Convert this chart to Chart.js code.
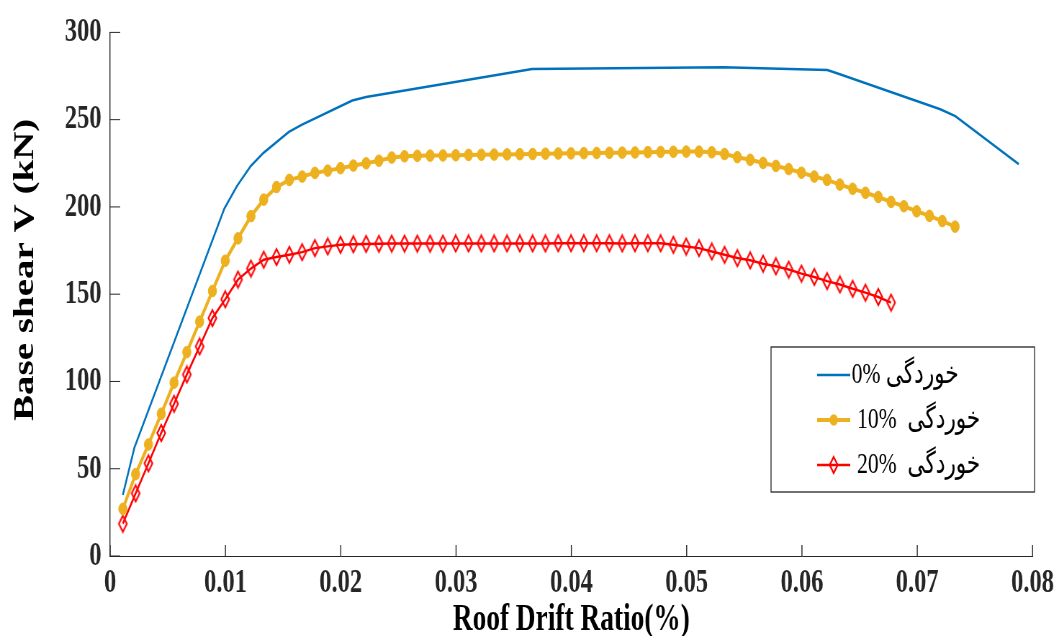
<!DOCTYPE html>
<html>
<head>
<meta charset="utf-8">
<script src="https://cdn.jsdelivr.net/npm/chart.js@4/dist/chart.umd.min.js"></script>
<style>
  html, body { margin: 0; padding: 0; background: #fff; overflow: hidden; }
  #chart { display: block; width: 1059px !important; height: 636px !important; }
</style>
</head>
<body>
<!-- the original figure is squeezed sideways, so draw wide and shrink with css -->
<canvas id="chart" width="1471" height="636" style="width:1059px;height:636px"></canvas>
<script>
// roof drift ratio of each analysis step (corroded frames)
const drift = [
  0.00110, 0.00221, 0.00332, 0.00443, 0.00554, 0.00665, 0.00776, 0.00887, 0.00998, 0.01109,
  0.01221, 0.01332, 0.01443, 0.01554, 0.01665, 0.01776, 0.01887, 0.01998, 0.02109, 0.02220,
  0.02331, 0.02442, 0.02553, 0.02664, 0.02775, 0.02886, 0.02997, 0.03108, 0.03219, 0.03330,
  0.03442, 0.03553, 0.03664, 0.03775, 0.03886, 0.03997, 0.04108, 0.04219, 0.04330, 0.04441,
  0.04552, 0.04663, 0.04774, 0.04885, 0.04996, 0.05107, 0.05218, 0.05329, 0.05440, 0.05551,
  0.05663, 0.05774, 0.05885, 0.05996, 0.06107, 0.06218, 0.06329, 0.06440, 0.06551, 0.06662,
  0.06773, 0.06884, 0.06995, 0.07106, 0.07217, 0.07328
];

// 0% corrosion (polyline)
const drift0 = [0.0011, 0.0021, 0.0099, 0.0110, 0.0122, 0.0133, 0.0155, 0.0166, 0.0210,
  0.0222, 0.0366, 0.0532, 0.0622, 0.0631, 0.0720, 0.0733, 0.0788];
const shear0 = [35, 62, 199, 212, 223.5, 231, 243, 247, 261,
  263, 279, 280, 278.5, 276.5, 256, 252, 224.5];

// 10% corrosion
const shear10 = [
  27, 46.9, 63.9, 81.5, 99.3, 116.8, 134.3, 151.8, 169.2, 182,
  194.7, 204.2, 211.4, 215.5, 217.4, 219.5, 220.8, 222.2, 223.7, 225,
  226.5, 228.3, 229.0, 229.3, 229.4, 229.5, 229.6, 229.8, 229.9, 230.0,
  230.1, 230.2, 230.3, 230.5, 230.6, 230.7, 230.8, 230.9, 231.0, 231.1,
  231.2, 231.4, 231.5, 231.6, 231.7, 231.7, 231.3, 230.3, 228.5, 227.0,
  225.2, 223.5, 221.7, 219.6, 217.4, 215.5, 212.8, 210.4, 208.1, 205.7,
  202.9, 200.4, 197.5, 194.9, 191.9, 188.7
];

// 20% corrosion
const shear20 = [
  18.5, 35.9, 53.1, 70.5, 87.2, 104, 120.1, 136.3, 147.1, 158.4,
  164.7, 169.8, 171.3, 172.6, 174.1, 176.4, 177.4, 178.3, 178.6, 178.8,
  178.9, 179.0, 179.0, 179.0, 179.0, 179.0, 179.1, 179.1, 179.1, 179.1,
  179.1, 179.1, 179.1, 179.1, 179.2, 179.2, 179.2, 179.2, 179.2, 179.1,
  179.2, 179.2, 179.2, 178.3, 177.3, 176.4, 174.5, 172.6, 170.7, 169.4,
  167.5, 166.0, 164.1, 161.8, 159.9, 157.5, 155.6, 153.1, 150.9, 148.4,
  145.2
];

// legend labels (ltr canvas: "0%" shows left of the persian word)
const seriesLabels = ['0% خوردگی', ' 10%  خوردگی', ' 20%  خوردگی'];
const xTitle = 'Roof Drift Ratio(%)';
// leading spaces nudge the rotated title up a little, like the original
const yTitle = '     Base shear V (kN)';

const serif = "'Liberation Serif', 'Times New Roman', 'DejaVu Sans', serif";
const axisColor = '#262626';

function pairs(xs, ys) {
  return ys.map((v, i) => ({x: xs[i], y: v}));
}

// hollow diamond marker, a bit taller than wide
function diamond(color) {
  const c = document.createElement('canvas');
  c.width = 16; c.height = 20;
  const g = c.getContext('2d');
  g.strokeStyle = color;
  g.lineWidth = 2.2;
  g.beginPath();
  g.moveTo(8, 2); g.lineTo(13.5, 10); g.lineTo(8, 18); g.lineTo(2.5, 10);
  g.closePath();
  g.stroke();
  return c;
}
const redDiamond = diamond('#ff0000');

const innerTicks = {
  id: 'innerTicks',
  afterDatasetsDraw(chart) {
    const {ctx, scales: {x, y}} = chart;
    ctx.save();
    ctx.strokeStyle = axisColor;
    ctx.lineWidth = 1.4;
    x.ticks.forEach((t, i) => {
      const px = x.getPixelForTick(i);
      ctx.beginPath(); ctx.moveTo(px, y.bottom); ctx.lineTo(px, y.bottom - 11); ctx.stroke();
    });
    ctx.lineWidth = 1;
    y.ticks.forEach((t, i) => {
      const py = y.getPixelForTick(i);
      ctx.beginPath(); ctx.moveTo(x.left, py); ctx.lineTo(x.left + 14, py); ctx.stroke();
    });
    ctx.restore();
  }
};

const legendBox = {
  id: 'legendBox',
  afterDraw(chart) {
    const ctx = chart.ctx;
    const bx = 1071, by = 347, bw = 366, bh = 145;
    ctx.save();
    ctx.fillStyle = '#fff';
    ctx.fillRect(bx, by, bw, bh);
    ctx.strokeStyle = axisColor;
    ctx.lineWidth = 1.3;
    ctx.strokeRect(bx, by, bw, bh);
    const rows = [375, 420, 465];
    chart.data.datasets.forEach((ds, i) => {
      const cy = rows[i];
      ctx.strokeStyle = ds.borderColor;
      ctx.lineWidth = ds.borderWidth;
      ctx.beginPath(); ctx.moveTo(1135, cy); ctx.lineTo(1181, cy); ctx.stroke();
      if (i === 1) {
        ctx.fillStyle = ds.pointBackgroundColor;
        ctx.beginPath(); ctx.arc(1158, cy, ds.pointRadius, 0, Math.PI * 2); ctx.fill();
      } else if (i === 2) {
        ctx.drawImage(redDiamond, 1158 - 8, cy - 10);
      }
      ctx.fillStyle = '#000';
      ctx.font = '30px ' + serif;
      ctx.textBaseline = 'middle';
      ctx.textAlign = 'left';
      ctx.direction = 'ltr';
      ctx.fillText(ds.label, 1183, cy);
    });
    ctx.restore();
  }
};

new Chart(document.getElementById('chart'), {
  type: 'scatter',
  data: {
    datasets: [{
      label: seriesLabels[0],
      data: pairs(drift0, shear0),
      showLine: true,
      borderColor: '#0072bd',
      borderWidth: 2.5,
      pointRadius: 0,
      fill: false
    }, {
      label: seriesLabels[1],
      data: pairs(drift, shear10),
      showLine: true,
      borderColor: '#edb120',
      borderWidth: 4,
      pointStyle: 'circle',
      pointRadius: 5.8,
      pointBackgroundColor: '#edb120',
      pointBorderColor: '#edb120',
      pointBorderWidth: 1,
      fill: false
    }, {
      label: seriesLabels[2],
      data: pairs(drift, shear20),
      showLine: true,
      borderColor: '#ff0000',
      borderWidth: 2.5,
      pointStyle: redDiamond,
      pointRadius: 7,
      fill: false
    }]
  },
  options: {
    responsive: false,
    devicePixelRatio: 1,
    animation: false,
    layout: { padding: { left: 0, right: 32, top: 26, bottom: 0 } },
    plugins: {
      legend: { display: false },
      tooltip: { enabled: false }
    },
    scales: {
      x: {
        type: 'linear',
        min: 0,
        max: 0.08,
        afterFit: (s) => { s.height = 80; },
        ticks: {
          stepSize: 0.01,
          padding: 7,
          color: axisColor,
          font: { family: serif, size: 34, weight: 'bold' },
          callback: (v) => String(+v.toFixed(2))
        },
        grid: { drawOnChartArea: false, drawTicks: false },
        border: { display: true, color: axisColor, width: 1 },
        title: {
          display: true,
          text: xTitle,
          color: '#000',
          font: { family: serif, size: 38, weight: 'bold', lineHeight: 1 },
          padding: { top: 0, bottom: -3 }
        }
      },
      y: {
        type: 'linear',
        min: 0,
        max: 300,
        afterFit: (s) => { s.width = 153; },
        ticks: {
          stepSize: 50,
          padding: 12,
          color: axisColor,
          font: { family: serif, size: 34, weight: 'bold' }
        },
        grid: { drawOnChartArea: false, drawTicks: false },
        border: { display: true, color: axisColor, width: 1.4 },
        title: {
          display: true,
          text: yTitle,
          color: '#000',
          font: { family: serif, size: 39, weight: 'bold', lineHeight: 1 },
          padding: { top: 16, bottom: 0 }
        }
      }
    }
  },
  plugins: [innerTicks, legendBox]
});
</script>
</body>
</html>
